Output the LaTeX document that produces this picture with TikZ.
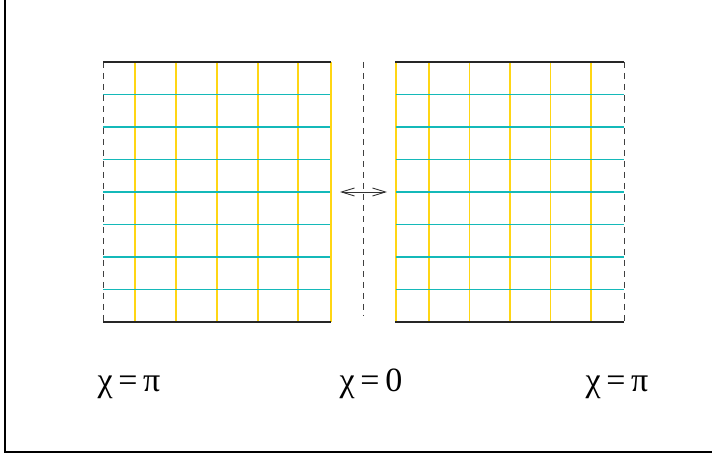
\documentclass[tikz,border=0pt]{standalone}
\usepackage{fontspec}
\setmainfont{Liberation Serif}
\usetikzlibrary{arrows.meta}
\definecolor{tealline}{RGB}{20,185,185}
\definecolor{goldline}{RGB}{255,214,20}

\begin{document}
\begin{tikzpicture}[
    x=1pt, y=-1pt,
    rim/.style={line width=1.6pt, black!85},
    seam/.style={line width=0.9pt, black!75, dash pattern=on 6pt off 5pt},
    row/.style={line width=1.2pt, tealline},
    col/.style={line width=1.3pt, goldline},
    label/.style={anchor=base, inner sep=0pt, font=\fontsize{34}{40}\selectfont}
]
    \useasboundingbox (0,0) rectangle (712,454);
    % frame
    \draw [line width=1.2pt] (5,0) -- (5,452) -- (712,452);

    % left sheet
    \foreach \x in {135,176,217,258,298}
        \draw [col] (\x,62) -- (\x,322);
    \draw [col, line width=2pt] (330.5,62) -- (330.5,322);
    \foreach \y in {94.5,127,159.5,192,224.5,257,289.5}
        \draw [row] (103,\y) -- (330,\y);
    \draw [seam] (103,62) -- (103,322);
    \draw [rim] (103,62) -- (331,62);
    \draw [rim] (103,322) -- (331,322);

    % right sheet
    \foreach \x in {429,469.5,510,550.5,591}
        \draw [col] (\x,62) -- (\x,322);
    \draw [col, line width=2pt] (396,62) -- (396,322);
    \foreach \y in {94.5,127,159.5,192,224.5,257,289.5}
        \draw [row] (396,\y) -- (624,\y);
    \draw [seam] (624,62) -- (624,322);
    \draw [rim] (395,62) -- (624,62);
    \draw [rim] (395,322) -- (624,322);

    % gluing line and arrow
    \draw [seam] (363,62) -- (363,316);
    \coordinate (glueL) at (340,192);
    \coordinate (glueR) at (387,192);
    \draw [{Straight Barb[length=13pt,width=8pt]}-{Straight Barb[length=13pt,width=8pt]}, line width=0.9pt, black!80] (glueL) -- (glueR);

    % labels
    \node (chiL) [label] at (129,391) {χ\,=\,π};
    \node (chiM) [label] at (371,391) {χ\,=\,0};
    \node (chiR) [label] at (617,391) {χ\,=\,π};
\end{tikzpicture}
\end{document}
